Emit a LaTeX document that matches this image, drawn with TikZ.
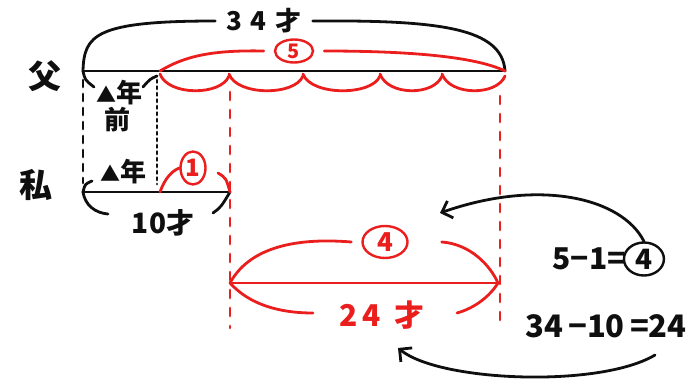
\documentclass[tikz,border=0pt]{standalone}
\usepackage{fontspec}
\setmainfont{Noto Sans CJK JP}
\usetikzlibrary{arrows.meta,positioning,shapes.geometric}
\definecolor{ink}{RGB}{15,15,15}
\definecolor{rd}{RGB}{235,30,30}
\tikzset{
  pen/.style={draw=ink,line width=2.8pt,line cap=round},
  rpen/.style={draw=rd,line width=2.8pt,line cap=round},
  lbl/.style={font=\fontsize{26}{28}\selectfont\bfseries,inner sep=1pt,text=ink},
  rlbl/.style={lbl,text=rd},
  circ/.style={ellipse,draw,line width=2.4pt,inner sep=0pt},
  ar/.style={pen,-{Straight Barb[length=9pt,width=18pt]}},
}
\newcommand{\tri}{{\fontsize{20}{20}\selectfont ▲}}

\begin{document}
\begin{tikzpicture}[x=1pt,y=-1pt]
  \useasboundingbox (0,0) rectangle (698,379);
  % end points of the bars
  \coordinate (fL) at (83,71);
  \coordinate (fA) at (160,71);
  \coordinate (fR) at (505,71);
  \coordinate (mL) at (83,192);
  \coordinate (mA) at (157,192);
  \coordinate (mR) at (230,192);
  \coordinate (rL) at (230,283);
  \coordinate (rR) at (498,283);

  % names
  \node[lbl,font=\fontsize{33}{35}\selectfont\bfseries] (chichi) at (45,76) {父};
  \node[lbl,font=\fontsize{33}{35}\selectfont\bfseries] (watashi) at (36,185) {私};

  % father: 34 years
  \draw[pen] (fL) -- (fR);
  \node[lbl] (age34) at (264,21) {3\,\,4\,\,才};
  \draw[pen] (fL) .. controls (84,35) and (95,21) .. ([xshift=-10pt]age34.west);
  \draw[pen] ([xshift=10pt]age34.east) .. controls (440,20) and (502,28) .. (fR);
  % five parts
  \node[circ,rd,minimum width=38pt,minimum height=23pt,text=rd,
    font=\fontsize{20}{20}\selectfont\bfseries] (five) at (294,51) {5};
  \draw[rpen] (fA) .. controls (185,56) and (212,50) .. ([xshift=-10pt]five.west);
  \draw[rpen] ([xshift=10pt]five.east) .. controls (420,51) and (478,58) .. (fR);
  \foreach \a/\b in {160/229,229/303,303/380,380/442,442/505}
    \draw[rpen] (\a,74) .. controls (\a+8,96) and (\b-8,96) .. (\b,76);

  % some years ago
  \draw[pen] (fL) .. controls (85,80) .. (94,87);
  \draw[pen] (143,87) .. controls (150,79) .. (157,76);
  \node[lbl] (agoA) at (119,93) {\tri 年};
  \node[lbl] (mae) at (117,120) {前};
  \draw[pen,dash pattern=on 7pt off 7pt] ([yshift=-9pt]fL) -- ([yshift=9pt]mL);
  \draw[pen,dash pattern=on 2.5pt off 4pt] (157,80) -- ([yshift=8pt]mA);

  % me: 10 years
  \draw[pen] (mL) -- (mR);
  \draw[pen] (92,181) .. controls (85,184) .. (mL);
  \node[lbl] (agoB) at (123,172) {\tri 年};
  \draw[pen] (mL) .. controls (85,205) and (95,213) .. (108,214);
  \draw[pen] (213,213) .. controls (221,207) .. (mR);
  \node[lbl,font=\fontsize{28}{30}\selectfont\bfseries] (age10) at (163,223) {10才};
  \node[circ,rd,minimum width=25pt,minimum height=33pt,text=rd,
    font=\fontsize{24}{24}\selectfont\bfseries] (one) at (193,168) {1};
  \draw[rpen] ([xshift=3pt]mA) .. controls (165,178) and (172,171) .. (one.west);
  \draw[rpen] (218,173) .. controls (226,178) .. (mR);

  % guide lines
  \draw[rpen,dash pattern=on 8pt off 10pt] (230,92) -- (230,328);
  \draw[rpen,dash pattern=on 8pt off 10pt] (500,96) -- (500,325);

  % difference: 24 years
  \draw[rpen] (rL) -- (rR);
  \node[circ,rd,minimum width=45pt,minimum height=32pt,text=rd,
    font=\fontsize{26}{26}\selectfont\bfseries] (four) at (385,242) {4};
  \draw[rpen] (rL) .. controls (248,250) and (290,237) .. ([xshift=-10pt]four.west);
  \draw[rpen] ([xshift=33pt]four.east) .. controls (470,244) and (490,265) .. (rR);
  \node[rlbl,font=\fontsize{30}{32}\selectfont\bfseries] (age24) at (382,315) {2\,4\ \ 才};
  \draw[rpen] (rL) .. controls (250,305) and (280,313) .. (313,313);
  \draw[rpen] (457,313) .. controls (475,308) and (490,296) .. (rR);

  % working
  \node[lbl,font=\fontsize{30}{32}\selectfont\bfseries] (eqA) at (589,259) {5−1=};
  \node[circ,ink,minimum width=40pt,minimum height=33pt,
    font=\fontsize{28}{28}\selectfont\bfseries,right=-4pt of eqA] (c4) {4};
  \node[lbl,font=\fontsize{31}{33}\selectfont\bfseries] (eqB) at (606,326) {34\,−10\,=24};
  \coordinate (tipA) at (440,213);
  \coordinate (fromB) at (655,355);
  \coordinate (tipB) at (398,348);
  \draw[ar] (c4.north) .. controls (622,198) and (540,178) .. (tipA);
  \draw[ar] (fromB) .. controls (600,388) and (440,382) .. (tipB);
\end{tikzpicture}
\end{document}
